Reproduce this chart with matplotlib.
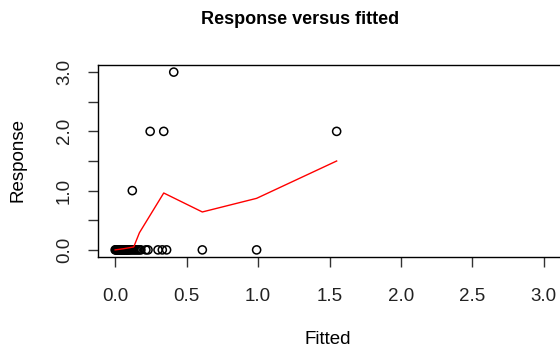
import matplotlib
matplotlib.use("Agg")
import matplotlib.pyplot as plt

# Observed points
fitted_zero = [0.0, 0.005, 0.01, 0.015, 0.02, 0.025, 0.03, 0.035, 0.04, 0.045, 0.05,
               0.055, 0.06, 0.065, 0.07, 0.075, 0.08, 0.085, 0.09, 0.095, 0.10,
               0.11, 0.12, 0.13, 0.14, 0.15, 0.16, 0.17, 0.18, 0.215, 0.23,
               0.30, 0.33, 0.36, 0.61, 0.99]
resp_zero = [0.0] * len(fitted_zero)
fitted_pos = [0.12, 0.245, 0.34, 0.41, 1.55]
resp_pos = [1.0, 2.0, 2.0, 3.0, 2.0]

# Smoother (lowess) line
smooth_x = [0.0, 0.06, 0.13, 0.17, 0.34, 0.61, 0.99, 1.55]
smooth_y = [0.0, 0.02, 0.05, 0.29, 0.96, 0.64, 0.87, 1.50]

xticks = [0.0, 0.5, 1.0, 1.5, 2.0, 2.5, 3.0]
xticklabels = ["0.0", "0.5", "1.0", "1.5", "2.0", "2.5", "3.0"]
yticks = [0.0, 0.5, 1.0, 1.5, 2.0, 2.5, 3.0]
yticklabels = ["0.0", "", "1.0", "", "2.0", "", "3.0"]

plt.rcParams['font.family'] = ['Liberation Sans', 'DejaVu Sans']

fig = plt.figure(figsize=(5.6, 3.55), dpi=100)
ax = fig.add_axes([98/560, (355-257)/355, (561-98)/560, (257-65)/355])

ax.scatter(fitted_zero + fitted_pos, resp_zero + resp_pos, s=34, facecolors='none',
           edgecolors='black', linewidths=1.1, zorder=2)
ax.plot(smooth_x, smooth_y, color='red', lw=1.0, zorder=3)

ax.set_xlim(-0.12, 3.12)
ax.set_ylim(-0.12, 3.12)
ax.set_xticks(xticks)
ax.set_xticklabels(xticklabels)
ax.set_yticks(yticks)
ax.set_yticklabels(yticklabels, rotation=90, va='center')
ax.tick_params(axis='both', direction='out', length=7, width=1, labelsize=13.5,
               colors='#333333', labelcolor='#222222')
ax.tick_params(axis='x', pad=15.5)
ax.tick_params(axis='y', pad=11)
for s in ax.spines.values():
    s.set_linewidth(1.0)

fig.text(300/560, 1 - 20/355, "Response versus fitted", ha='center', va='center',
         fontsize=13, fontweight='bold')
fig.text(328/560, 1 - 339/355, "Fitted", ha='center', va='center', fontsize=13.5)
fig.text(18/560, 1 - 160/355, "Response", ha='center', va='center', fontsize=13.5, rotation=90)

fig.savefig("out.png", dpi=100)
